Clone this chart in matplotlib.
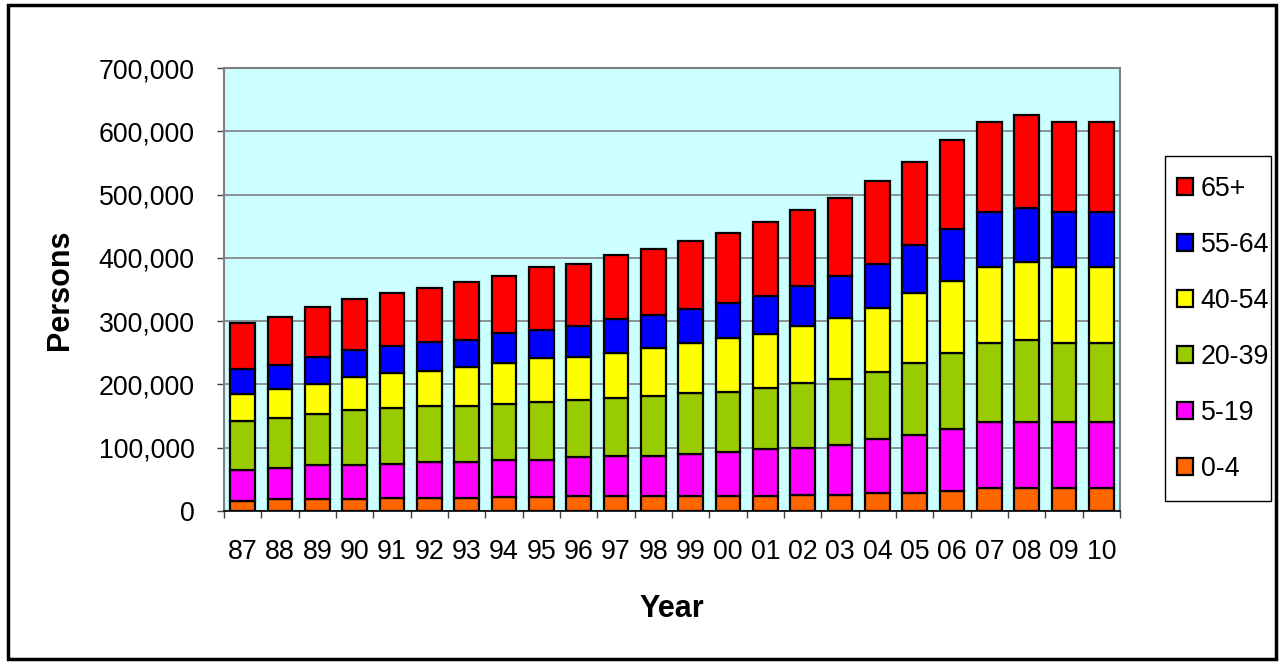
import matplotlib
matplotlib.use("Agg")
import matplotlib.pyplot as plt
import numpy as np
from matplotlib.patches import Rectangle
from matplotlib.ticker import FuncFormatter, FixedLocator

plt.rcParams['font.family'] = ['Liberation Sans', 'DejaVu Sans']

years = ["87", "88", "89", "90", "91", "92", "93", "94", "95", "96", "97", "98",
         "99", "00", "01", "02", "03", "04", "05", "06", "07", "08", "09", "10"]

age_0_4 = [16000, 19000, 19000, 19000, 20000, 20000, 20000, 22000, 22000, 23000, 23000, 23000,
           23000, 23000, 23000, 25000, 25000, 29000, 29000, 32000, 36000, 36000, 36000, 36000]
age_5_19 = [48000, 49000, 53000, 53000, 55000, 58000, 58000, 59000, 59000, 62000, 64000, 64000,
            67000, 71000, 75000, 75000, 79000, 84000, 91000, 98000, 104000, 104000, 104000, 104000]
age_20_39 = [79000, 79000, 81000, 87000, 88000, 88000, 88000, 88000, 92000, 90000, 92000, 95000,
             96000, 94000, 97000, 102000, 104000, 107000, 114000, 120000, 126000, 130000, 126000, 126000]
age_40_54 = [42000, 45000, 48000, 52000, 55000, 55000, 61000, 65000, 68000, 69000, 71000, 75000,
             80000, 85000, 85000, 91000, 97000, 101000, 111000, 114000, 120000, 123000, 120000, 120000]
age_55_64 = [39000, 39000, 43000, 43000, 42000, 46000, 43000, 47000, 45000, 49000, 53000, 52000,
             53000, 56000, 59000, 62000, 66000, 70000, 75000, 82000, 86000, 86000, 86000, 86000]
age_65_plus = [73000, 75000, 78000, 81000, 85000, 85000, 92000, 90000, 99000, 98000, 101000, 105000,
               108000, 111000, 118000, 120000, 124000, 131000, 131000, 141000, 143000, 147000, 143000, 143000]

series = [
    ("0-4", age_0_4, "#FF6600"),
    ("5-19", age_5_19, "#FF00FF"),
    ("20-39", age_20_39, "#99CC00"),
    ("40-54", age_40_54, "#FFFF00"),
    ("55-64", age_55_64, "#0000FF"),
    ("65+", age_65_plus, "#FF0000"),
]

W, H = 1279, 663
fig = plt.figure(figsize=(W / 100, H / 100), dpi=100)
fig.patch.set_facecolor("white")

ax = fig.add_axes([224 / W, 1 - 511 / H, (1120 - 224) / W, (511 - 68) / H])
ax.set_facecolor("#CCFFFF")

x = np.arange(len(years))
bottom = np.zeros(len(years))
handles = []
for label, vals, color in series:
    vals = np.array(vals, dtype=float)
    b = ax.bar(x, vals, width=0.66, bottom=bottom, color=color,
               edgecolor="black", linewidth=1.6, label=label, zorder=3)
    handles.append(b)
    bottom += vals

ax.set_xlim(-0.5, len(years) - 0.5)
ax.set_ylim(0, 700000)
ax.set_yticks(np.arange(0, 700001, 100000))
ax.yaxis.set_major_formatter(FuncFormatter(lambda v, p: f"{int(v):,}"))
ax.grid(axis="y", color="#808080", linewidth=1.2, zorder=1)
ax.set_axisbelow(True)

ax.set_xticks(x)
ax.set_xticklabels(years)
ax.xaxis.set_minor_locator(FixedLocator(np.arange(-0.5, len(years), 1.0)))
ax.tick_params(axis="x", which="major", length=0, pad=20.5, labelsize=19.3)
ax.tick_params(axis="x", which="minor", length=5, width=1, color="#404040")
ax.tick_params(axis="y", which="major", length=5, width=1, color="#404040",
               pad=16, labelsize=19.3)

for side in ("left", "top", "right"):
    ax.spines[side].set_color("#808080")
    ax.spines[side].set_linewidth(1.5)
ax.spines["bottom"].set_color("black")
ax.spines["bottom"].set_linewidth(1.2)

ax.set_ylabel("Persons", fontsize=22, fontweight="bold")
ax.yaxis.set_label_coords(-0.166, 0.5)
ax.set_xlabel("Year", fontsize=22, fontweight="bold")
ax.xaxis.set_label_coords(0.5, -0.187)

# legend box
fig.add_artist(Rectangle((1165 / W, 1 - 501 / H), 106 / W, 345 / H,
                         transform=fig.transFigure, facecolor="white",
                         edgecolor="black", linewidth=1.0, zorder=5))
leg = fig.legend(handles[::-1], [s[0] for s in series][::-1],
                 loc="center left", bbox_to_anchor=(1177 / W, 1 - 329 / H),
                 fontsize=19.3, frameon=False, handlelength=0.58, handleheight=0.58,
                 handletextpad=0.3, labelspacing=1.12, borderpad=0,
                 borderaxespad=0)
leg.set_zorder(6)
for h in leg.legend_handles:
    h.set_linewidth(1.6)

# outer frame around the whole chart
fig.add_artist(Rectangle((8 / W, 4 / H), (1276 - 8) / W, (658 - 4) / H,
                         transform=fig.transFigure, fill=False,
                         edgecolor="black", linewidth=2.5))

fig.savefig("out.png", dpi=100)
